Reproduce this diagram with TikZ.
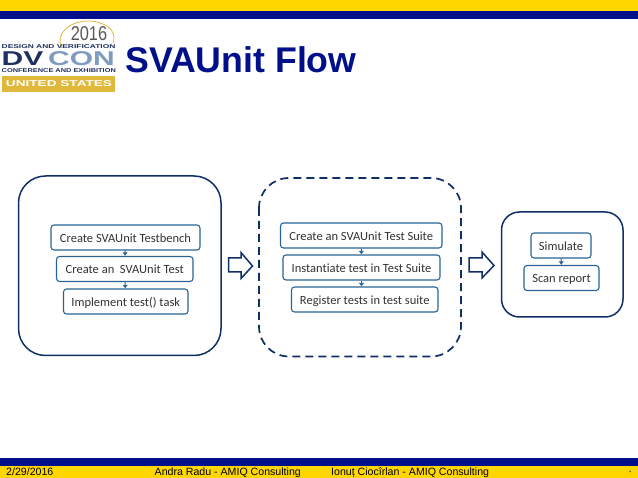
\documentclass[tikz,border=0pt]{standalone}
\usepackage{fontspec}
\setmainfont{Liberation Sans}
\newfontfamily\carl[Ligatures=NoCommon]{Carlito}
\usetikzlibrary{arrows.meta}
\definecolor{navy}{HTML}{000F8A}
\definecolor{gold}{HTML}{FFD700}
\definecolor{dark}{HTML}{0F2F66}
\definecolor{steel}{HTML}{2A6496}
\definecolor{logog}{HTML}{E0B83A}
\definecolor{logob}{HTML}{1F2F5F}
\definecolor{logol}{HTML}{7F9CBE}
\tikzset{
 x=1pt,y=-1pt,
 outerbox/.style={draw=dark,line width=1.5pt,rounded corners=27pt,fill=white},
 dashbox/.style={outerbox,line width=1.7pt,dash pattern=on 8pt off 5pt,rounded corners=30pt},
 stepbox/.style={draw=steel,line width=1.1pt,rounded corners=3pt,fill=white,inner sep=0pt,minimum height=25pt,text height=12pt,text depth=2pt,font=\carl\fontsize{12.5}{14}\selectfont,text=black!80},
 link/.style={draw=steel,line width=1pt,-{Latex[length=3.5pt,width=5.5pt]}},
 blockarrow/.style={draw=dark,line width=1.5pt,fill=white,line join=miter},
 foot/.style={anchor=base west,font=\fontsize{10.6}{12}\selectfont,text=black,inner sep=0pt},
 logotxt/.style={font=\fontsize{5.6}{6}\selectfont\bfseries,text=logob,inner sep=0pt,anchor=west},
 logobig/.style={inner sep=0pt,anchor=west,font=\fontsize{20}{20}\selectfont\bfseries},
}
\begin{document}
\begin{tikzpicture}
\useasboundingbox (0,0) rectangle (638,478);
\fill[white] (0,0) rectangle (638,478);
% bands
\fill[gold] (0,0) rectangle (638,11);
\fill[navy] (0,11) rectangle (638,19.5);
\fill[navy] (0,458.5) rectangle (638,466);
\fill[gold] (0,466) rectangle (638,478);
% logo
\draw[logog,line width=.8pt] (62,48) .. controls (54,34) and (70,21) .. (88,21) .. controls (104,21) and (118,30) .. (113,43);
\node[inner sep=0pt,text=black!65,font=\fontsize{20}{20}\selectfont] (year) at (89,33.5) {\scalebox{.82}[1]{2016}};
\node[logotxt] (tag1) at (1.5,47) {\scalebox{1.5}[1]{DESIGN AND VERIFICATION}};
\node[logobig,text=logob] (dv) at (1.5,58.5) {\scalebox{1.5}[1]{DV}};
\node[logobig,text=logol] (con) at (48,58.5) {\scalebox{1.5}[1]{CON}};
\node[logotxt] (tag2) at (1.5,71) {\scalebox{1.32}[1]{CONFERENCE AND EXHIBITION}};
\fill[logog] (1.5,76) rectangle (115,92);
\node[inner sep=0pt,text=white,font=\fontsize{8.5}{9}\selectfont\bfseries] (us) at (59,84) {\scalebox{1.6}[1]{UNITED STATES}};
% title
\node[anchor=base west,inner sep=0pt,text=navy,font=\fontsize{35.7}{38}\selectfont\bfseries] (title) at (125,72.5) {SVAUnit Flow};
% containers
\draw[outerbox] (18.5,176) rectangle (221,355.5);
\draw[dashbox] (259,178) rectangle (461,356.5);
\draw[outerbox,rounded corners=18pt] (501.5,212) rectangle (623,317);
% column 1
\node[stepbox,minimum width=149pt] (a1) at (125.5,237.5) {Create SVAUnit Testbench};
\node[stepbox,minimum width=136.5pt] (a2) at (124.75,269) {Create an \ SVAUnit Test};
\node[stepbox,minimum width=124.5pt] (a3) at (125.75,301.5) {Implement test() task};
\draw[link] (a1) -- (a2);
\draw[link] (a2) -- (a3);
% column 2
\node[stepbox,minimum width=161.5pt] (b1) at (361.25,235.5) {Create an SVAUnit Test Suite};
\node[stepbox,minimum width=157pt] (b2) at (361.5,267.5) {Instantiate test in Test Suite};
\node[stepbox,minimum width=146.5pt] (b3) at (364.75,299.5) {Register tests in test suite};
\draw[link] (b1.south) -- (b2.north);
\draw[link] (b2.south) -- (b2.south |- b3.north);
% column 3
\node[stepbox,minimum width=60pt] (c1) at (561,245.5) {Simulate};
\node[stepbox,minimum width=75pt] (c2) at (561.5,278) {Scan report};
\draw[link] (c1) -- (c2);
% block arrows
\draw[blockarrow] (228.5,258) -- (241,258) -- (241,252.5) -- (252.5,266) -- (241,278.5) -- (241,272) -- (228.5,272) -- cycle;
\draw[blockarrow] (469,258) -- (482,258) -- (482,252) -- (494,265.5) -- (482,278) -- (482,272) -- (469,272) -- cycle;
% footer
\node[foot] (date) at (6,476) {2/29/2016};
\node[foot] (f2) at (154.5,476) {Andra Radu - AMIQ Consulting};
\node[foot] (f3) at (331,476) {Ionuț Ciocîrlan - AMIQ Consulting};
\fill[black!60] (630,471.5) circle (1pt);
\end{tikzpicture}
\end{document}
